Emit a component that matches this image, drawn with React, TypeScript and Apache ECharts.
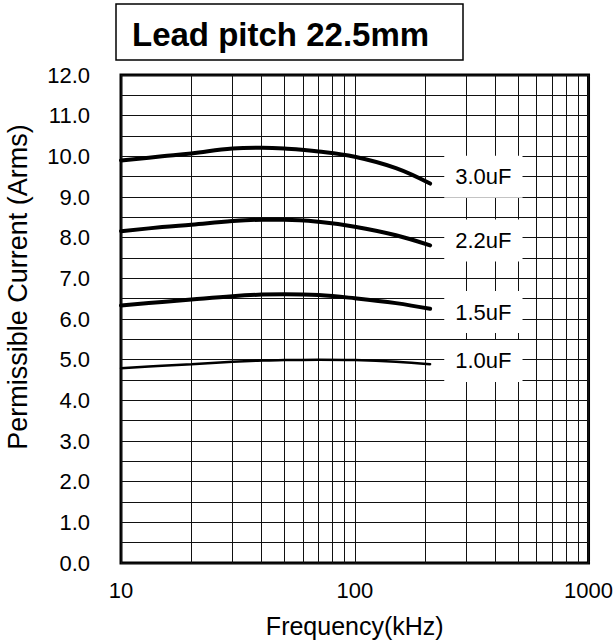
import React, { useEffect, useRef } from "react";
import * as echarts from "echarts";

const freqs = [10, 15, 20, 30, 40, 50, 70, 100, 150, 210];
const seriesNames = ["3.0uF", "2.2uF", "1.5uF", "1.0uF"];
const current30 = [9.9, 10.0, 10.07, 10.19, 10.21, 10.19, 10.12, 9.99, 9.71, 9.33];
const current22 = [8.16, 8.26, 8.32, 8.41, 8.44, 8.44, 8.39, 8.27, 8.06, 7.81];
const current15 = [6.33, 6.42, 6.48, 6.56, 6.6, 6.61, 6.59, 6.51, 6.39, 6.25];
const current10 = [4.79, 4.85, 4.89, 4.95, 4.98, 4.99, 5.0, 4.99, 4.95, 4.89];
const labelFreq = 355;
const labelValues = [9.5, 7.93, 6.17, 4.97];
const minorFreqs = [20, 30, 40, 50, 60, 70, 80, 90, 200, 300, 400, 500, 600, 700, 800, 900];
const yTicks = { min: 0, max: 12, interval: 1 };
const xRange = { min: 10, max: 1000 };

const FONT = "'Liberation Sans', Arial, sans-serif";

export default function App() {
  const ref = useRef<HTMLDivElement>(null);
  useEffect(() => {
    if (!ref.current) return;
    document.body.style.margin = "0";
    const chart = echarts.init(ref.current, undefined, { renderer: "svg" });
    const all = [current30, current22, current15, current10];
    const curveSeries = all.map((vals, i) => ({
      type: "line",
      name: seriesNames[i],
      data: freqs.map((f, j) => [f, vals[j]]),
      smooth: 0.4,
      symbol: "none",
      lineStyle: { color: "#000", width: i === 3 ? 2.5 : 4, cap: "round" },
      z: 5,
      markLine:
        i === 0
          ? {
              silent: true,
              symbol: "none",
              label: { show: false },
              lineStyle: { color: "#111", width: 1, type: "solid" },
              data: minorFreqs.map((f) => ({ xAxis: f })),
              z: 1,
            }
          : undefined,
    }));
    chart.setOption({
      animation: false,
      grid: {
        left: 121,
        right: 25,
        top: 75,
        bottom: 81,
        show: true,
        borderColor: "#000",
        borderWidth: 3,
        backgroundColor: "#fff",
      },
      xAxis: {
        type: "log",
        logBase: 10,
        min: xRange.min,
        max: xRange.max,
        name: "Frequency(kHz)",
        nameLocation: "middle",
        nameGap: 50,
        nameTextStyle: { fontFamily: FONT, fontSize: 25, color: "#000" },
        axisLine: { show: false },
        axisTick: { show: false },
        axisLabel: {
          fontFamily: FONT,
          fontSize: 22,
          color: "#000",
          margin: 16,
          formatter: (v: number) => String(Math.round(v)),
        },
        splitLine: { show: true, lineStyle: { color: "#111", width: 1 } },
      },
      yAxis: {
        type: "value",
        min: yTicks.min,
        max: yTicks.max,
        interval: yTicks.interval,
        axisLine: { show: false },
        axisTick: { show: false },
        axisLabel: {
          fontFamily: FONT,
          fontSize: 22,
          color: "#000",
          margin: 31,
          formatter: (v: number) => v.toFixed(1),
        },
        splitLine: { show: true, lineStyle: { color: "#111", width: 1 } },
        minorTick: { show: false, splitNumber: 2 },
        minorSplitLine: { show: true, lineStyle: { color: "#111", width: 1 } },
      },
      graphic: [
        {
          type: "rect",
          shape: { x: 116, y: 4, width: 347, height: 56 },
          style: { fill: "#fff", stroke: "#000", lineWidth: 1.5 },
        },
        {
          type: "text",
          x: 132,
          y: 34,
          style: {
            text: "Lead pitch 22.5mm",
            font: `bold 33px ${FONT}`,
            fill: "#000",
            textAlign: "left",
            textVerticalAlign: "middle",
          },
        },
        {
          type: "text",
          x: 18,
          y: 287,
          rotation: Math.PI / 2,
          style: {
            text: "Permissible Current (Arms)",
            font: `27px ${FONT}`,
            fill: "#000",
            textAlign: "center",
            textVerticalAlign: "middle",
          },
        },
      ],
      series: [
        ...curveSeries,
        {
          type: "scatter",
          symbolSize: 0,
          z: 20,
          itemStyle: { opacity: 1 },
          data: labelValues.map((v, i) => ({ value: [labelFreq, v], name: seriesNames[i] })),
          label: {
            show: true,
            position: "inside",
            formatter: (p: any) => p.name,
            fontFamily: FONT,
            fontSize: 22,
            color: "#000",
            opacity: 1,
            backgroundColor: "#fff",
            padding: [10, 11],
          },
        },
      ],
    });
    return () => chart.dispose();
  }, []);
  return <div ref={ref} style={{ width: 616, height: 644 }} />;
}
